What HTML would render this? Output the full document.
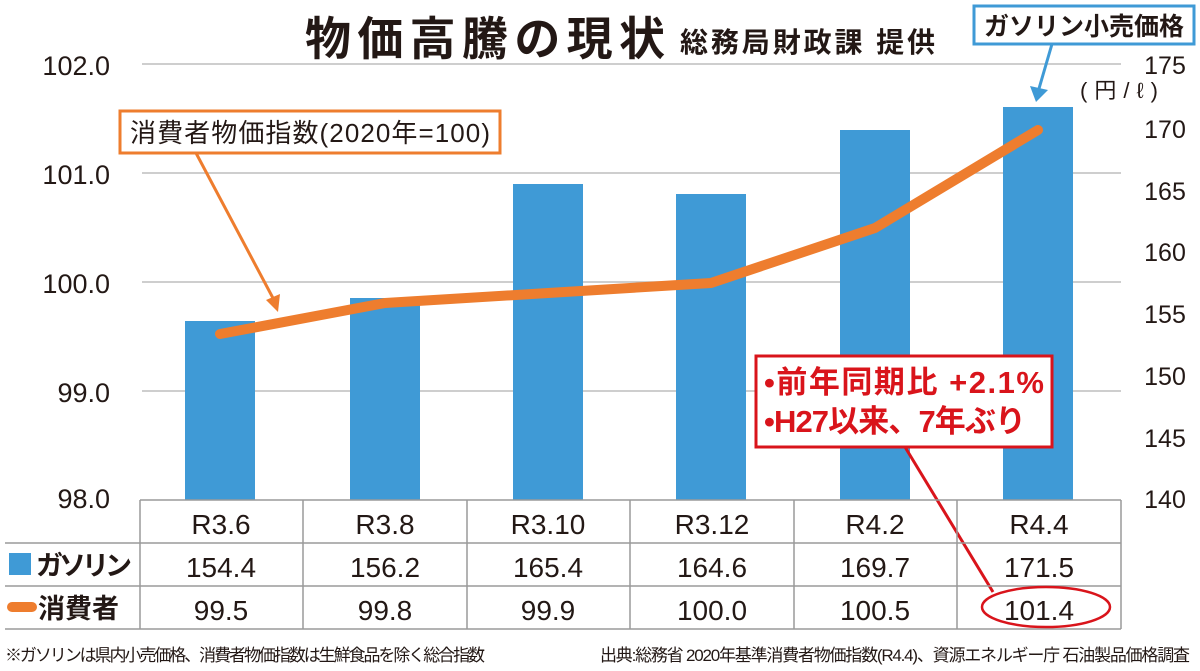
<!DOCTYPE html>
<html><head><meta charset="utf-8"><style>
html,body{margin:0;padding:0;background:#fff;}
svg{display:block;font-family:"Liberation Sans","Noto Sans CJK JP",sans-serif;}
</style></head><body>
<svg width="1200" height="671" viewBox="0 0 1200 671" xmlns="http://www.w3.org/2000/svg">
<!-- grid -->
<g stroke="#bdbdbd" stroke-width="1.5">
<line x1="142" y1="64" x2="1121" y2="64"/>
<line x1="142" y1="173" x2="1121" y2="173"/>
<line x1="142" y1="282" x2="1121" y2="282"/>
<line x1="142" y1="391" x2="1121" y2="391"/>
</g>
<!-- left axis -->
<g font-size="27" fill="#231815" text-anchor="end">
<text x="110" y="75">102.0</text>
<text x="110" y="184">101.0</text>
<text x="110" y="293">100.0</text>
<text x="110" y="402">99.0</text>
<text x="110" y="508">98.0</text>
</g>
<!-- right axis -->
<g font-size="25" fill="#231815" text-anchor="middle">
<text x="1165" y="74">175</text>
<text x="1165" y="138">170</text>
<text x="1165" y="200">165</text>
<text x="1165" y="261">160</text>
<text x="1165" y="323">155</text>
<text x="1165" y="385">150</text>
<text x="1165" y="447">145</text>
<text x="1165" y="508">140</text>
</g>
<text x="1080" y="98" font-size="22" fill="#231815" textLength="78">(円/ℓ)</text>
<!-- bars -->
<g fill="#3f9ad6">
<rect x="185" y="321" width="70" height="179"/>
<rect x="350" y="298" width="70" height="202"/>
<rect x="513" y="184" width="70" height="316"/>
<rect x="676" y="194" width="70" height="306"/>
<rect x="840" y="130" width="70" height="370"/>
<rect x="1003" y="107" width="70" height="393"/>
</g>
<!-- line -->
<polyline points="220,334 385,303 548,293 711,283 875,228 1038,130" fill="none" stroke="#ee7d2e" stroke-width="10" stroke-linecap="round" stroke-linejoin="round"/>
<!-- title -->
<text x="305" y="55" font-size="46" font-weight="bold" fill="#231815" textLength="360">物価高騰の現状</text>
<text x="680" y="52" font-size="28" font-weight="bold" fill="#231815" textLength="255">総務局財政課 提供</text>
<!-- gasoline label -->
<rect x="974" y="6" width="220" height="38" fill="#fff" stroke="#3f9ad6" stroke-width="3"/>
<text x="984" y="35" font-size="25" font-weight="bold" fill="#231815" textLength="200">ガソリン小売価格</text>
<line x1="1052" y1="44" x2="1038" y2="92" stroke="#3f9ad6" stroke-width="3"/>
<path d="M1030,86 L1036,102 L1048,90 Z" fill="#3f9ad6"/>
<!-- CPI label -->
<rect x="120" y="111" width="380" height="42" fill="#fff" stroke="#ee7d2e" stroke-width="3"/>
<text x="130" y="142" font-size="26" fill="#231815" textLength="360">消費者物価指数(2020年=100)</text>
<line x1="196" y1="153" x2="274" y2="300" stroke="#ee7d2e" stroke-width="3"/>
<path d="M266,300 L278,312 L280,294 Z" fill="#ee7d2e"/>
<!-- red note -->
<line x1="905" y1="447" x2="993" y2="592" stroke="#d9141b" stroke-width="3"/>
<rect x="756" y="356" width="296" height="91" fill="#fff" stroke="#d9141b" stroke-width="3"/>
<g font-size="31" font-weight="bold" fill="#d9141b">
<text x="764" y="393" textLength="280">•前年同期比 +2.1%</text>
<text x="764" y="432" textLength="262">•H27以来、7年ぶり</text>
</g>
<!-- table -->
<g stroke="#9a9a9a" stroke-width="1.5" fill="none">
<line x1="140" y1="500" x2="1121" y2="500"/>
<line x1="5" y1="543" x2="1121" y2="543"/>
<line x1="5" y1="586" x2="1121" y2="586"/>
<line x1="5" y1="629" x2="1121" y2="629"/>
<line x1="140" y1="500" x2="140" y2="629"/>
<line x1="303" y1="500" x2="303" y2="629"/>
<line x1="467" y1="500" x2="467" y2="629"/>
<line x1="630" y1="500" x2="630" y2="629"/>
<line x1="794" y1="500" x2="794" y2="629"/>
<line x1="957" y1="500" x2="957" y2="629"/>
<line x1="1121" y1="500" x2="1121" y2="629"/>
</g>
<g font-size="28" fill="#231815" text-anchor="middle">
<text x="221" y="534">R3.6</text><text x="385" y="534">R3.8</text><text x="548" y="534">R3.10</text><text x="712" y="534">R3.12</text><text x="875" y="534">R4.2</text><text x="1039" y="534">R4.4</text>
<text x="221" y="577">154.4</text><text x="385" y="577">156.2</text><text x="548" y="577">165.4</text><text x="712" y="577">164.6</text><text x="875" y="577">169.7</text><text x="1039" y="577">171.5</text>
<text x="221" y="620">99.5</text><text x="385" y="620">99.8</text><text x="548" y="620">99.9</text><text x="712" y="620">100.0</text><text x="875" y="620">100.5</text><text x="1039" y="620">101.4</text>
</g>
<rect x="9" y="553" width="22" height="22" fill="#3f9ad6"/>
<text x="36" y="575" font-size="27" font-weight="bold" fill="#231815" textLength="96">ガソリン</text>
<line x1="12" y1="607" x2="32" y2="607" stroke="#ee7d2e" stroke-width="10" stroke-linecap="round"/>
<text x="38" y="618" font-size="27" font-weight="bold" fill="#231815">消費者</text>
<ellipse cx="1046" cy="607" rx="64" ry="20" fill="none" stroke="#d9141b" stroke-width="2.5"/>
<!-- footer -->
<text x="5" y="661" font-size="17" fill="#231815" textLength="480">※ガソリンは県内小売価格、消費者物価指数は生鮮食品を除く総合指数</text>
<text x="600" y="661" font-size="17" fill="#231815" textLength="590">出典:総務省 2020年基準消費者物価指数(R4.4)、資源エネルギー庁 石油製品価格調査</text>
</svg>
</body></html>
